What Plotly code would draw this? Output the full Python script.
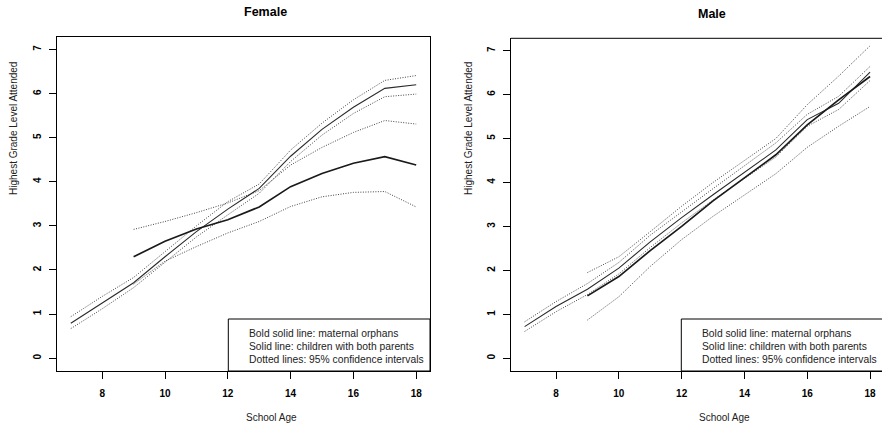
import plotly.graph_objects as go

W, H = 882, 428

ages = [7, 8, 9, 10, 11, 12, 13, 14, 15, 16, 17, 18]
orph_ages = [9, 10, 11, 12, 13, 14, 15, 16, 17, 18]

# Female
f_both = [0.79, 1.26, 1.71, 2.30, 2.87, 3.38, 3.85, 4.58, 5.19, 5.69, 6.12, 6.20]
f_both_hi = [0.94, 1.40, 1.83, 2.42, 3.00, 3.55, 3.95, 4.72, 5.33, 5.86, 6.30, 6.41]
f_both_lo = [0.67, 1.12, 1.60, 2.18, 2.75, 3.25, 3.74, 4.46, 5.06, 5.55, 5.93, 5.99]
f_orph = [2.30, 2.65, 2.93, 3.14, 3.43, 3.89, 4.19, 4.42, 4.57, 4.38]
f_orph_hi = [2.92, 3.10, 3.30, 3.52, 3.80, 4.38, 4.78, 5.12, 5.39, 5.31]
f_orph_lo = [1.68, 2.20, 2.53, 2.84, 3.10, 3.44, 3.66, 3.76, 3.78, 3.43]

# Male
m_both = [0.72, 1.18, 1.57, 2.05, 2.65, 3.20, 3.72, 4.22, 4.74, 5.43, 5.80, 6.51]
m_both_hi = [0.83, 1.29, 1.70, 2.18, 2.80, 3.34, 3.86, 4.38, 4.90, 5.55, 5.96, 6.64]
m_both_lo = [0.61, 1.06, 1.45, 1.92, 2.52, 3.08, 3.60, 4.08, 4.58, 5.28, 5.66, 6.32]
m_orph = [1.42, 1.86, 2.45, 3.00, 3.58, 4.10, 4.63, 5.31, 5.88, 6.41]
m_orph_hi = [1.95, 2.31, 2.88, 3.46, 4.00, 4.50, 5.00, 5.77, 6.42, 7.11]
m_orph_lo = [0.87, 1.40, 2.09, 2.70, 3.23, 3.72, 4.20, 4.80, 5.28, 5.73]

x_ticks = [8, 10, 12, 14, 16, 18]
y_ticks = [0, 1, 2, 3, 4, 5, 6, 7]
titles = ["Female", "Male"]
x_title = "School Age"
y_title = "Highest Grade Level Attended"
legend_lines = ["Bold solid line: maternal orphans",
                "Solid line: children with both parents",
                "Dotted lines: 95% confidence intervals"]


def px(x):
    return x / W


def py(y):
    return 1 - y / H


FONT = "Liberation Sans, Arial, sans-serif"
DOT = dict(color="#444444", width=1, dash="1px,1.5px")
THIN = dict(color="#2a2a2a", width=1.1)
BOLD = dict(color="#1a1a1a", width=1.7)

fig = go.Figure()

panels = [
    ("x", "y", f_both, f_both_hi, f_both_lo, f_orph, f_orph_hi, f_orph_lo),
    ("x2", "y2", m_both, m_both_hi, m_both_lo, m_orph, m_orph_hi, m_orph_lo),
]
for xa, ya, both, bhi, blo, orph, ohi, olo in panels:
    for ys, xs in [(bhi, ages), (blo, ages), (ohi, orph_ages), (olo, orph_ages)]:
        fig.add_trace(go.Scatter(x=xs, y=ys, mode="lines", line=DOT, xaxis=xa, yaxis=ya,
                                 showlegend=False, hoverinfo="skip"))
    fig.add_trace(go.Scatter(x=ages, y=both, mode="lines", line=THIN, xaxis=xa, yaxis=ya,
                             showlegend=False))
    fig.add_trace(go.Scatter(x=orph_ages, y=orph, mode="lines", line=BOLD, xaxis=xa, yaxis=ya,
                             showlegend=False))

axis_common = dict(showgrid=False, zeroline=False, showline=True, linecolor="black", linewidth=1,
                   ticks="outside", ticklen=7, tickcolor="black", tickwidth=1,
                   tickfont=dict(family=FONT, size=10, color="black", weight="bold"))

fig.update_layout(
    width=W, height=H, margin=dict(l=0, r=0, t=0, b=0),
    paper_bgcolor="white", plot_bgcolor="white", showlegend=False,
    xaxis=dict(domain=[px(57), px(430)], range=[6.56, 18.44], tickvals=x_ticks,
               mirror=True, anchor="y", ticklabelstandoff=6, **axis_common),
    yaxis=dict(domain=[py(370.5), py(37.2)], range=[-0.28, 7.28], tickvals=y_ticks,
               mirror=True, anchor="x", tickangle=-90, ticklabelstandoff=4, **axis_common),
    xaxis2=dict(domain=[px(510.7), 1.0], range=[6.557, 18.38], tickvals=x_ticks,
                anchor="y2", ticklabelstandoff=6, **axis_common),
    yaxis2=dict(domain=[py(370.6), py(38.3)], range=[-0.28, 7.28], tickvals=y_ticks,
                anchor="x2", tickangle=-90, ticklabelstandoff=4, **axis_common),
)

# top border for right panel (right edge lies beyond the window)
fig.add_shape(type="line", xref="paper", yref="paper", x0=px(510.7), x1=1.02,
              y0=py(38.3), y1=py(38.3), line=dict(color="black", width=1))

# panel titles
for t, cx, cy in [(titles[0], 265.5, 12), (titles[1], 711.5, 14)]:
    fig.add_annotation(text="<b>" + t + "</b>", x=px(cx), y=py(cy), xref="paper", yref="paper",
                       showarrow=False, xanchor="center", yanchor="middle",
                       font=dict(family=FONT, size=12.5, color="black"))

for cx in [271, 724]:
    fig.add_annotation(text=x_title, x=px(cx), y=py(417), xref="paper", yref="paper",
                       showarrow=False, xanchor="center", yanchor="middle",
                       font=dict(family=FONT, size=10, color="#222222"))
for cx in [14, 469]:
    fig.add_annotation(text=y_title, x=px(cx), y=py(129), xref="paper", yref="paper",
                       showarrow=False, xanchor="center", yanchor="middle", textangle=-90,
                       font=dict(family=FONT, size=10, color="#222222"))

# legend boxes
for bx0, bx1, tx in [(228.3, 430, 247), (681.3, 890, 700.3)]:
    fig.add_shape(type="rect", xref="paper", yref="paper", x0=px(bx0), x1=px(bx1),
                  y0=py(371), y1=py(319), line=dict(color="black", width=1),
                  fillcolor="white", layer="above")
    for i, t in enumerate(legend_lines):
        fig.add_annotation(text=t, x=px(tx), y=py([333.3, 346.4, 359.3][i]), xref="paper",
                           yref="paper", showarrow=False, xanchor="left", yanchor="middle",
                           font=dict(family=FONT, size=10.3, color="#222222"))

fig.write_html("out.html")
